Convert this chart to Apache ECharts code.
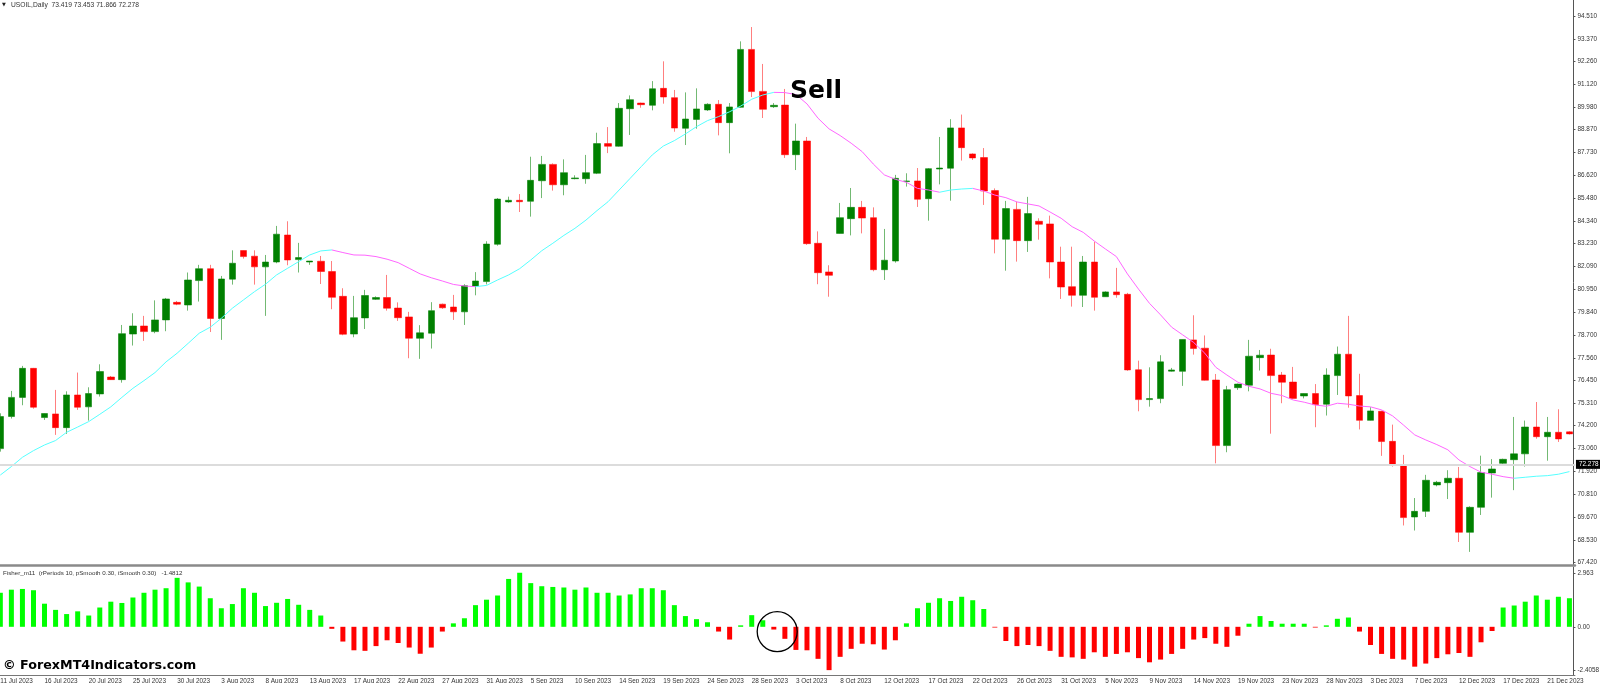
<!DOCTYPE html>
<html>
<head>
<meta charset="utf-8">
<title>USOIL Daily</title>
<style>
    html, body { margin: 0; padding: 0; background: #fff; }
    #main { width: 1600px; height: 683px; }
</style>
<script src="https://cdn.jsdelivr.net/npm/echarts@6/dist/echarts.min.js"></script>
</head>
<body>
<div id="main"></div>
<script>
// 蜡烛图数据
let opens = [
    73.06, 74.65, 75.60, 77.04, 74.60, 74.78, 74.10, 75.72, 75.13, 75.77,
    76.61, 76.48, 78.74, 79.14, 78.86, 79.44, 80.31, 80.18, 81.39, 81.98,
    79.51, 81.46, 82.88, 82.60, 82.07, 82.31, 83.65, 82.43, 82.31, 82.35,
    81.84, 80.61, 78.74, 79.54, 80.46, 80.55, 80.03, 79.59, 78.53, 78.78,
    80.22, 80.08, 79.84, 81.12, 81.34, 83.19, 85.29, 85.37, 85.32, 86.34,
    87.15, 86.14, 86.44, 86.44, 86.71, 88.18, 88.05, 89.91, 90.19, 90.08,
    90.92, 90.46, 88.94, 89.38, 89.85, 90.13, 89.22, 89.98, 92.85, 90.77,
    90.01, 90.09, 87.63, 88.31, 83.24, 81.82, 83.73, 84.46, 85.02, 84.51,
    81.93, 82.36, 86.30, 86.33, 85.45, 86.92, 86.96, 88.96, 87.67, 87.49,
    85.85, 83.44, 84.92, 83.37, 84.33, 84.20, 82.31, 81.09, 80.66, 82.31,
    80.59, 80.83, 80.71, 76.97, 75.49, 75.54, 76.90, 76.89, 78.45, 78.04,
    76.46, 73.21, 76.08, 76.20, 77.57, 77.70, 76.71, 76.36, 75.67, 75.79,
    75.26, 76.68, 77.74, 75.69, 74.46, 74.91, 73.42, 72.25, 69.67, 69.95,
    71.26, 71.37, 71.59, 68.91, 70.15, 71.85, 72.33, 72.51, 72.80, 74.13,
    73.65, 73.87, 73.89
]
let closes = [
    74.65, 75.60, 77.04, 75.11, 74.80, 74.10, 75.72, 75.11, 75.79, 76.88,
    76.48, 78.76, 79.14, 78.86, 79.44, 80.48, 80.22, 81.42, 81.98, 79.51,
    81.47, 82.25, 82.58, 82.07, 82.31, 83.69, 82.41, 82.53, 82.36, 81.84,
    80.56, 78.73, 79.55, 80.65, 80.55, 80.02, 79.55, 78.53, 78.80, 79.90,
    80.04, 79.84, 81.14, 81.37, 83.20, 85.43, 85.37, 85.30, 86.36, 87.15,
    86.14, 86.74, 86.48, 86.74, 88.18, 88.05, 89.93, 90.36, 90.11, 90.90,
    90.49, 88.95, 89.40, 89.90, 90.13, 89.22, 90.00, 92.85, 90.76, 89.88,
    90.08, 87.63, 88.31, 83.22, 81.78, 81.65, 84.51, 85.02, 84.49, 81.93,
    82.40, 86.46, 86.33, 85.42, 86.94, 86.97, 88.96, 87.98, 87.47, 85.83,
    83.44, 84.96, 83.37, 84.71, 84.18, 82.31, 81.07, 80.66, 82.31, 80.56,
    80.83, 80.69, 76.96, 75.49, 75.54, 77.36, 76.96, 78.47, 78.02, 76.45,
    73.21, 75.98, 76.26, 77.64, 77.69, 76.68, 76.35, 75.55, 75.79, 75.24,
    76.71, 77.74, 75.67, 74.46, 74.93, 73.41, 72.23, 69.64, 69.95, 71.49,
    71.39, 71.59, 68.91, 70.15, 71.87, 72.05, 72.53, 72.80, 74.13, 73.65,
    73.87, 73.54, 73.79
]
let lows = [
    72.91, 74.55, 75.21, 75.04, 74.48, 73.74, 73.79, 74.98, 74.45, 75.64,
    76.46, 76.33, 78.17, 78.40, 78.78, 78.88, 80.17, 79.90, 80.35, 78.84,
    78.45, 81.19, 82.48, 81.19, 79.64, 82.25, 82.15, 81.79, 82.17, 81.22,
    79.97, 78.68, 78.58, 78.99, 80.43, 79.90, 79.39, 77.54, 77.51, 78.02,
    79.99, 79.44, 79.19, 80.66, 81.20, 83.12, 85.25, 84.79, 84.56, 85.48,
    85.85, 85.62, 86.41, 86.19, 86.67, 87.71, 88.03, 88.61, 89.96, 89.83,
    90.16, 88.77, 88.11, 88.92, 89.80, 88.59, 87.70, 89.96, 90.49, 89.45,
    89.95, 87.47, 86.87, 83.16, 81.21, 80.59, 83.72, 83.63, 83.73, 81.85,
    81.42, 82.28, 86.05, 85.04, 84.36, 86.16, 85.35, 87.34, 87.37, 85.14,
    82.74, 81.88, 82.33, 82.81, 83.42, 81.50, 80.48, 80.10, 80.08, 79.90,
    80.58, 80.54, 76.92, 74.91, 75.14, 75.31, 76.88, 76.17, 77.72, 76.43,
    72.33, 72.88, 75.97, 75.90, 76.93, 73.80, 75.31, 75.54, 75.55, 74.12,
    74.70, 75.72, 75.09, 74.01, 74.45, 72.70, 72.17, 69.25, 69.00, 69.67,
    71.19, 70.56, 68.43, 67.94, 69.77, 70.63, 72.30, 71.00, 72.17, 73.55,
    72.46, 73.39, 73.76
]
let highs = [
    74.81, 75.92, 77.16, 77.06, 74.81, 75.97, 75.90, 76.83, 76.10, 77.24,
    76.66, 79.19, 79.77, 79.64, 80.41, 80.53, 80.38, 81.79, 82.17, 82.17,
    81.62, 82.89, 82.89, 82.89, 82.66, 84.10, 84.33, 83.26, 82.36, 82.61,
    82.36, 81.01, 80.63, 80.93, 80.61, 81.67, 80.31, 79.84, 79.18, 80.32,
    80.25, 80.68, 81.21, 81.81, 83.34, 85.48, 85.55, 85.68, 87.53, 87.57,
    87.20, 87.40, 86.61, 87.62, 88.72, 89.00, 90.19, 90.57, 90.21, 91.28,
    92.26, 90.84, 90.72, 90.92, 90.18, 90.34, 90.19, 93.25, 93.96, 92.13,
    90.19, 90.89, 89.17, 88.51, 83.83, 82.15, 85.24, 85.98, 85.34, 85.02,
    83.95, 86.63, 86.71, 86.97, 86.97, 88.51, 89.39, 89.62, 87.70, 87.96,
    85.96, 85.34, 85.30, 85.54, 84.48, 84.61, 83.07, 83.07, 82.61, 83.32,
    80.86, 82.02, 80.78, 77.42, 77.09, 77.69, 77.06, 78.48, 79.67, 78.67,
    76.76, 76.17, 76.28, 78.45, 77.95, 78.01, 76.86, 77.11, 75.80, 76.26,
    77.04, 78.12, 79.64, 76.77, 75.11, 74.94, 74.25, 72.75, 70.61, 71.76,
    71.46, 71.99, 72.15, 70.20, 72.71, 72.54, 72.56, 74.63, 74.45, 75.37,
    74.63, 75.01, 73.92
]

// 均线数据
let maLine = [
    71.75, 72.17, 72.63, 72.96, 73.24, 73.46, 73.87, 74.13, 74.40, 74.76,
    75.13, 75.60, 76.05, 76.43, 76.83, 77.36, 77.79, 78.28, 78.78, 79.08,
    79.52, 80.02, 80.43, 80.84, 81.21, 81.67, 82.00, 82.33, 82.66, 82.86,
    82.91, 82.78, 82.66, 82.65, 82.58, 82.45, 82.28, 82.00, 81.72, 81.53,
    81.37, 81.20, 81.12, 81.09, 81.15, 81.42, 81.67, 81.98, 82.41, 82.87,
    83.24, 83.63, 83.98, 84.39, 84.86, 85.30, 85.88, 86.46, 87.04, 87.62,
    88.06, 88.33, 88.66, 89.02, 89.32, 89.52, 89.76, 90.04, 90.38, 90.59,
    90.72, 90.71, 90.61, 90.15, 89.44, 88.91, 88.58, 88.20, 87.78, 87.17,
    86.63, 86.41, 86.26, 85.96, 85.88, 85.77, 85.88, 85.93, 85.96, 85.83,
    85.63, 85.50, 85.29, 85.19, 85.09, 84.79, 84.48, 84.06, 83.78, 83.35,
    82.96, 82.58, 81.72, 80.97, 80.26, 79.69, 79.08, 78.70, 78.32, 77.79,
    77.09, 76.71, 76.35, 76.15, 76.02, 75.80, 75.69, 75.47, 75.36, 75.22,
    75.16, 75.31, 75.26, 75.17, 75.13, 74.98, 74.68, 74.22, 73.74, 73.49,
    73.26, 73.00, 72.50, 72.17, 71.89, 71.79, 71.67, 71.59, 71.64, 71.69,
    71.72, 71.79, 71.92
]
// 均线上升段(青色)的下标范围, 其余为下降段(粉色)
let risingRanges = [[0, 30], [43, 70], [85, 88], [137, 142]]

// 副图 Fisher 柱状数据
let fisher = [
    1.87, 2.04, 2.08, 2.01, 1.27, 0.93, 0.70, 0.85, 0.62, 1.06,
    1.38, 1.31, 1.61, 1.87, 2.04, 2.12, 2.69, 2.44, 2.21, 1.57,
    1.02, 1.25, 2.12, 1.87, 1.14, 1.32, 1.53, 1.21, 0.93, 0.62,
    -0.11, -0.81, -1.29, -1.32, -1.06, -0.74, -0.89, -1.14, -1.48, -1.14,
    -0.26, 0.19, 0.47, 1.19, 1.49, 1.72, 2.63, 2.97, 2.40, 2.23,
    2.19, 2.16, 2.04, 2.16, 1.87, 1.87, 1.72, 1.78, 2.12, 2.12,
    2.01, 1.19, 0.59, 0.42, 0.25, -0.26, -0.70, 0.08, 0.64, 0.36,
    -0.15, -0.66, -1.27, -1.29, -1.76, -2.38, -1.65, -1.21, -0.93, -0.96,
    -1.25, -0.74, 0.19, 1.02, 1.32, 1.57, 1.42, 1.65, 1.46, 0.98,
    -0.04, -0.78, -1.06, -1.00, -1.06, -1.32, -1.65, -1.68, -1.76, -1.40,
    -1.65, -1.49, -1.40, -1.72, -1.95, -1.80, -1.49, -1.21, -0.70, -0.62,
    -0.93, -1.10, -0.49, 0.17, 0.59, 0.32, 0.17, 0.17, 0.17, -0.04,
    0.08, 0.44, 0.51, -0.26, -1.00, -1.49, -1.76, -1.80, -2.19, -2.02,
    -1.72, -1.51, -1.44, -1.65, -0.85, -0.23, 1.06, 1.17, 1.38, 1.72,
    1.49, 1.65, 1.57
]

// 坐标轴刻度
let dateLabels = [
    '11 Jul 2023', '16 Jul 2023', '20 Jul 2023', '25 Jul 2023', '30 Jul 2023', '3 Aug 2023',
    '8 Aug 2023', '13 Aug 2023', '17 Aug 2023', '22 Aug 2023', '27 Aug 2023', '31 Aug 2023',
    '5 Sep 2023', '10 Sep 2023', '14 Sep 2023', '19 Sep 2023', '24 Sep 2023', '28 Sep 2023',
    '3 Oct 2023', '8 Oct 2023', '12 Oct 2023', '17 Oct 2023', '22 Oct 2023', '26 Oct 2023',
    '31 Oct 2023', '5 Nov 2023', '9 Nov 2023', '14 Nov 2023', '19 Nov 2023', '23 Nov 2023',
    '28 Nov 2023', '3 Dec 2023', '7 Dec 2023', '12 Dec 2023', '17 Dec 2023', '21 Dec 2023'
]
let priceTicks = [
    94.51, 93.37, 92.26, 91.12, 89.98, 88.87, 87.73, 86.62, 85.48, 84.34, 83.23, 82.09, 80.95,
    79.84, 78.70, 77.56, 76.45, 75.31, 74.20, 73.06, 71.92, 70.81, 69.67, 68.53, 67.42
]
let fisherTicks = [2.963, 0, -2.4058]
let fisherTickText = ['2.963', '0.00', '-2.4058']
let currentPrice = 72.278

let smallFont = 'Liberation Sans'
let categories = opens.map(function (v, i) {
    return i % 4 === 0 ? dateLabels[i / 4] : ''
})
let candles = opens.map(function (v, i) {
    return [opens[i], closes[i], lows[i], highs[i]]
})

function isRising (i) {
    return risingRanges.some(function (r) {
        return i >= r[0] && i <= r[1]
    })
}
let cyanLine = maLine.map(function (v, i) { return isRising(i) ? v : null })
// 粉色段要和青色段首尾相接
let pinkLine = maLine.map(function (v, i) {
    let edge = risingRanges.some(function (r) { return i === r[0] || i === r[1] })
    return (!isRising(i) || edge) ? v : null
})

let myChart = echarts.init(document.getElementById('main'), null, { renderer: 'canvas' })
myChart.setOption({
    animation: false,
    backgroundColor: '#fff',
    textStyle: { fontFamily: smallFont },
    grid: [
        { left: -5.2, top: 0, width: 1580.15, height: 565, outerBoundsMode: 'none' },
        { left: -5.2, top: 567, width: 1580.15, height: 108, outerBoundsMode: 'none' }
    ],
    xAxis: [
        {
            type: 'category',
            gridIndex: 0,
            data: categories,
            axisLine: { onZero: false, lineStyle: { color: '#8a8a8a', width: 2.5 } },
            axisTick: { show: false },
            axisLabel: { show: false }
        },
        {
            type: 'category',
            gridIndex: 1,
            data: categories,
            axisLine: { onZero: false, lineStyle: { color: '#777', width: 1 } },
            axisTick: { interval: 3, alignWithLabel: true, length: 3, lineStyle: { color: '#555' } },
            axisLabel: {
                interval: 3,
                align: 'left',
                margin: 3,
                fontSize: 6.4,
                fontFamily: smallFont,
                color: '#333',
                hideOverlap: false
            }
        }
    ],
    yAxis: [
        {
            type: 'value',
            gridIndex: 0,
            position: 'right',
            offset: -1.5,
            min: 67.29,
            max: 95.30,
            splitLine: { show: false },
            axisLine: { show: true, lineStyle: { color: '#555', width: 1 } },
            axisTick: { show: true, length: 2, customValues: priceTicks, lineStyle: { color: '#555' } },
            axisLabel: {
                customValues: priceTicks,
                margin: 4,
                fontSize: 6.4,
                fontFamily: smallFont,
                color: '#333',
                showMinLabel: true,
                showMaxLabel: true,
                formatter: function (v) { return v.toFixed(3) }
            }
        },
        {
            type: 'value',
            gridIndex: 1,
            position: 'right',
            offset: -1.5,
            min: -2.648,
            max: 3.286,
            splitLine: { show: false },
            axisLine: { show: true, onZero: false, lineStyle: { color: '#555', width: 1 } },
            axisTick: { show: true, length: 2, customValues: fisherTicks, lineStyle: { color: '#555' } },
            axisLabel: {
                customValues: fisherTicks,
                margin: 4,
                fontSize: 6.4,
                fontFamily: smallFont,
                color: '#333',
                formatter: function (v) {
                    return fisherTickText[fisherTicks.indexOf(v)]
                }
            }
        }
    ],
    series: [
        {
            type: 'candlestick',
            xAxisIndex: 0,
            yAxisIndex: 0,
            data: candles,
            barWidth: 7,
            itemStyle: {
                color: '#008000',
                color0: '#ff0000',
                borderColor: 'rgba(0,128,0,0.55)',
                borderColor0: 'rgba(255,0,0,0.5)',
                borderWidth: 1
            },
            markLine: {
                silent: true,
                symbol: 'none',
                lineStyle: { color: '#dcdcdc', width: 2, type: 'solid' },
                label: {
                    position: 'end',
                    distance: 1,
                    formatter: '72.278',
                    color: '#fff',
                    backgroundColor: '#000',
                    fontSize: 6.4,
                    fontFamily: smallFont,
                    padding: [2, 2, 1, 3]
                },
                data: [{ yAxis: currentPrice }]
            }
        },
        {
            type: 'line',
            xAxisIndex: 0,
            yAxisIndex: 0,
            data: pinkLine,
            showSymbol: false,
            z: 4,
            lineStyle: { color: '#ff66ff', width: 1 }
        },
        {
            type: 'line',
            xAxisIndex: 0,
            yAxisIndex: 0,
            data: cyanLine,
            showSymbol: false,
            z: 4,
            lineStyle: { color: '#55ffff', width: 1 }
        },
        {
            type: 'bar',
            xAxisIndex: 1,
            yAxisIndex: 1,
            data: fisher,
            barWidth: 5,
            itemStyle: {
                color: function (p) { return p.value >= 0 ? '#00ff00' : '#ff0000' }
            }
        }
    ],
    graphic: [
        { type: 'text', left: 2, top: 2, style: { text: '▼', fontSize: 5, fontFamily: 'DejaVu Sans', fill: '#222' } },
        {
            type: 'text', left: 11, top: 1.5,
            style: { text: 'USOIL,Daily  73.419 73.453 71.866 72.278', fontSize: 6.7, fontFamily: smallFont, fill: '#333' }
        },
        {
            type: 'text', left: 3, top: 570,
            style: { text: 'Fisher_m11  (rPeriods 10, pSmooth 0.30, iSmooth 0.30)   -1.4812', fontSize: 6.2, fontFamily: smallFont, fill: '#333' }
        },
        {
            type: 'text', left: 790, top: 79, z: 10,
            style: { text: 'Sell', fontSize: 25, fontWeight: 'bold', fontFamily: 'DejaVu Sans', fill: '#000' }
        },
        {
            type: 'text', left: 3, top: 659, z: 10,
            style: { text: '© ForexMT4Indicators.com', fontSize: 12.7, fontWeight: 'bold', fontFamily: 'DejaVu Sans', fill: '#000' }
        },
        {
            type: 'circle', z: 10,
            shape: { cx: 777.2, cy: 631.6, r: 20 },
            style: { fill: 'none', stroke: '#000', lineWidth: 1.3 }
        }
    ]
})
</script>
</body>
</html>
